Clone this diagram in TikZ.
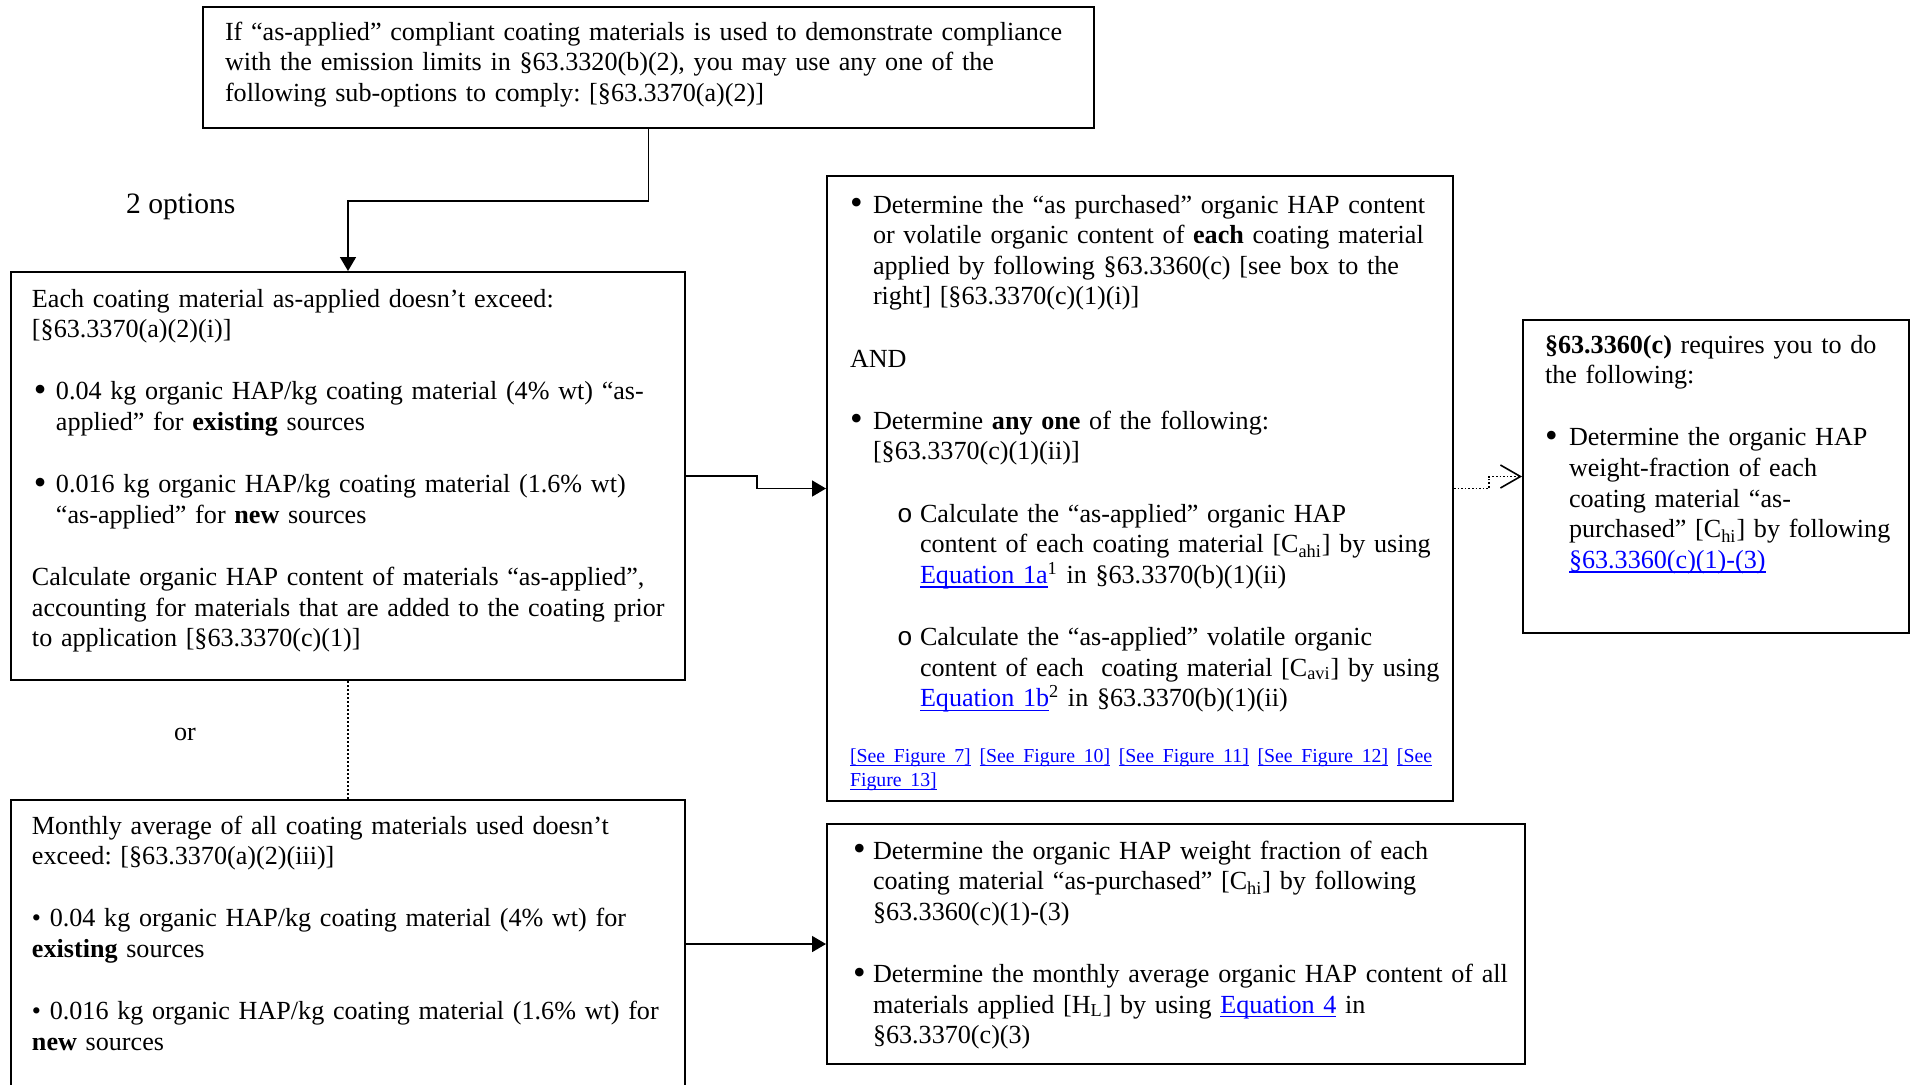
\documentclass[tikz,border=0pt]{standalone}
\usepackage{fontspec}
\setmainfont{Liberation Serif}
\setmonofont{Liberation Mono}
\usetikzlibrary{arrows.meta}

\definecolor{linkblue}{RGB}{0,0,255}
\newcommand{\mainsize}{\fontsize{13.06}{15.3}\selectfont}
\newcommand{\linksize}{\fontsize{9.9}{12}\selectfont}
\newcommand{\lnk}[1]{\textcolor{linkblue}{\setbox0\hbox{#1}\rlap{\rule[-0.17em]{\wd0}{0.05em}}\box0}}
\newcommand{\bigdot}{\raisebox{-0.8pt}{\fontsize{18}{18}\selectfont\textbullet}}
\newcommand{\bul}[2]{\hangindent=#2\hangafter=1\noindent\hspace*{#1}\makebox[\dimexpr#2-#1\relax][l]{\bigdot}}
\newcommand{\subbul}{\hangindent=35pt\hangafter=1\noindent\hspace*{23.5pt}\makebox[11.5pt][l]{\texttt{o}}}

\tikzset{
  box/.style={draw, line width=1pt, inner ysep=0pt, anchor=north west, font=\mainsize,
    execute at begin node={\frenchspacing\setlength{\parskip}{15.8pt}\rightskip=-12pt plus 1fil\relax}},
  conn/.style={line width=0.8pt, -{Triangle[length=7pt,width=8pt]}},
  orline/.style={line width=1pt, densely dotted},
  dotconn/.style={line width=0.8pt, densely dotted, -{Straight Barb[length=10pt,width=11.5pt]}}
}

\begin{document}
\begin{tikzpicture}[x=0.5pt,y=-0.5pt]
\useasboundingbox (0,0) rectangle (1914,1084);
\clip (0,0) rectangle (1914,1084);

% sub-option boxes
\node[box, text width=423.5pt, inner xsep=11pt, text height=16.5pt, text depth=44pt] (opts) at (202,6)
{If “as-applied” compliant coating materials is used to demonstrate compliance\newline
with the emission limits in §63.3320(b)(2), you may use any one of the\newline
following sub-options to comply: [§63.3370(a)(2)]\par};

\node[box, text width=316pt, inner xsep=10.5pt, text height=17.5pt, text depth=186.5pt] (each) at (10,271)
{Each coating material as-applied doesn’t exceed:\newline
[§63.3370(a)(2)(i)]

\bul{1pt}{12pt}0.04 kg organic HAP/kg coating material (4\% wt) “as-\newline
applied” for \textbf{existing} sources

\bul{1pt}{12pt}0.016 kg organic HAP/kg coating material (1.6\% wt)\newline
“as-applied” for \textbf{new} sources

Calculate organic HAP content of materials “as-applied”,\newline
accounting for materials that are added to the coating prior\newline
to application [§63.3370(c)(1)]\par};

\node[box, text width=316pt, inner xsep=10.5pt, text height=17pt, text depth=143.5pt] (monthly) at (10,799)
{Monthly average of all coating materials used doesn’t\newline
exceed: [§63.3370(a)(2)(iii)]

\textbullet\ 0.04 kg organic HAP/kg coating material (4\% wt) for\newline
\textbf{existing} sources

\textbullet\ 0.016 kg organic HAP/kg coating material (1.6\% wt) for\newline
\textbf{new} sources\par};

% determination boxes
\node[box, text width=290pt, inner xsep=11.5pt, text height=18.5pt, text depth=294pt] (asbought) at (826,175)
{\bul{0pt}{11.5pt}Determine the “as purchased” organic HAP content\newline
or volatile organic content of \textbf{each} coating material\newline
applied by following §63.3360(c) [see box to the\newline
right] [§63.3370(c)(1)(i)]

AND

\bul{0pt}{11.5pt}Determine \textbf{any one} of the following:\newline
[§63.3370(c)(1)(ii)]

\subbul Calculate the “as-applied” organic HAP\newline
content of each coating material [C\textsubscript{ahi}] by using\newline
\lnk{Equation 1a}\textsuperscript{1} in §63.3370(b)(1)(ii)

\subbul Calculate the “as-applied” volatile organic\newline
content of each\ \ coating material [C\textsubscript{avi}] by using\newline
\lnk{Equation 1b}\textsuperscript{2} in §63.3370(b)(1)(ii)

{\linksize\noindent\lnk{[See Figure 7]} \lnk{[See Figure 10]} \lnk{[See Figure 11]} \lnk{[See Figure 12]} \lnk{[See}\newline
\lnk{Figure 13]}\par}};

\node[box, text width=323pt, inner xsep=13pt, text height=17.5pt, text depth=102.5pt] (hapfrac) at (826,823)
{\bul{0pt}{10pt}Determine the organic HAP weight fraction of each\newline
coating material “as-purchased” [C\textsubscript{hi}] by following\newline
§63.3360(c)(1)-(3)

\bul{0pt}{10pt}Determine the monthly average organic HAP content of all\newline
materials applied [H\textsubscript{L}] by using \lnk{Equation 4} in\newline
§63.3370(c)(3)\par};

\node[box, text width=171pt, inner xsep=11pt, text height=16.5pt, text depth=140pt] (rule) at (1522,319)
{\textbf{§63.3360(c)} requires you to do\newline
the following:

\bul{0pt}{12pt}Determine the organic HAP\newline
weight-fraction of each\newline
coating material “as-\newline
purchased” [C\textsubscript{hi}] by following\newline
\lnk{§63.3360(c)(1)-(3)}\par};

% free labels
\node[anchor=base west, font=\fontsize{14.8}{17}\selectfont] (twoopt) at (119,213) {2 options};
\node[anchor=base west, font=\mainsize] (ortext) at (167,740) {or};

% connectors
\draw[conn] (opts.south) -- ++(0,72) -| (each.north);
\draw[conn] (each.east) -- ++(71,0) |- (asbought.west);
\draw[orline] (each.south) -- (monthly.north);
\draw[conn] (monthly.east |- hapfrac.west) -- (hapfrac.west);
\draw[dotconn] (asbought.east) -- ++(35,0) |- (rule.west);
\end{tikzpicture}
\end{document}
